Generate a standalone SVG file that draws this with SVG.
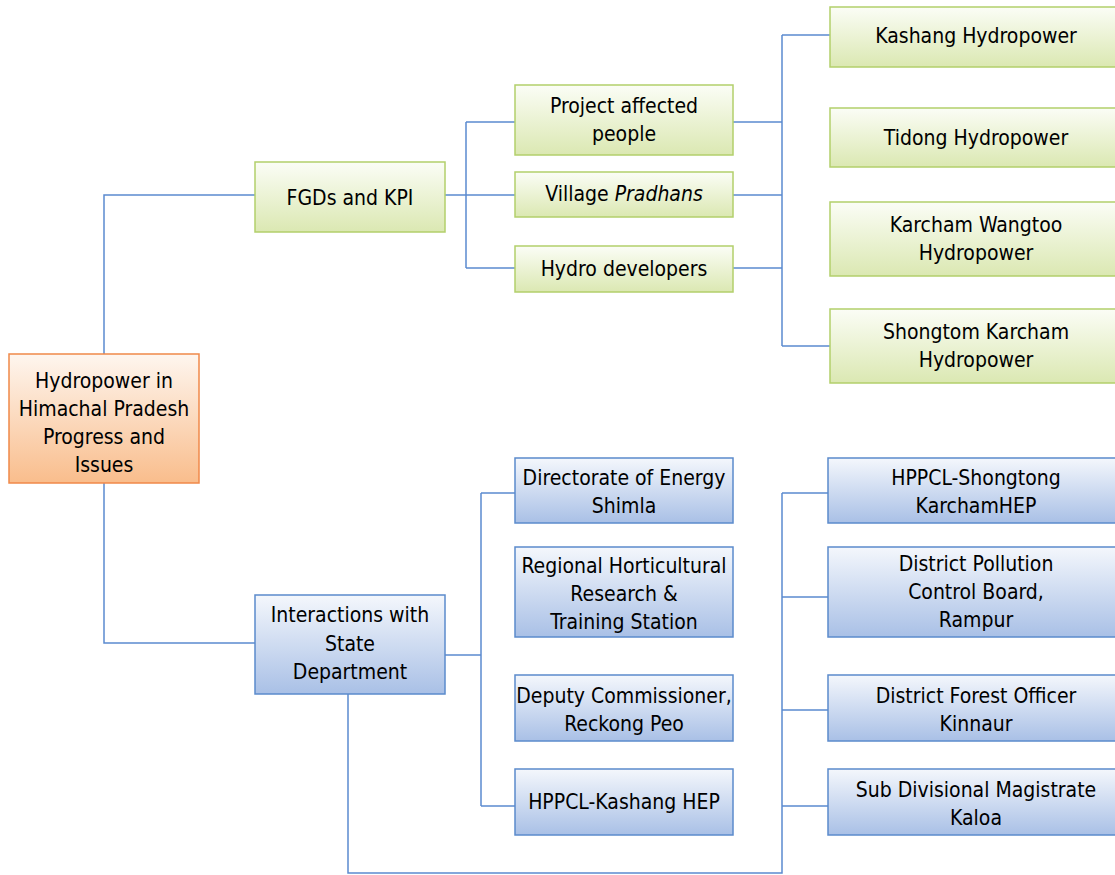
<svg xmlns="http://www.w3.org/2000/svg" width="1115" height="875" viewBox="0 0 1115 875">
<defs>
<linearGradient id="gOrange" x1="0" y1="0" x2="0" y2="1"><stop offset="0" stop-color="#fef6ef"/><stop offset="1" stop-color="#f9bd8c"/></linearGradient>
<linearGradient id="gGreen" x1="0" y1="0" x2="0" y2="1"><stop offset="0" stop-color="#fbfdf6"/><stop offset="1" stop-color="#dbe8b2"/></linearGradient>
<linearGradient id="gBlue" x1="0" y1="0" x2="0" y2="1"><stop offset="0" stop-color="#f4f7fc"/><stop offset="1" stop-color="#a9c0e6"/></linearGradient>
</defs>
<style>
text{font-family:"DejaVu Sans Condensed","DejaVu Sans",sans-serif;font-stretch:condensed;font-size:21px;fill:#000;text-anchor:middle}
.o{fill:url(#gOrange);stroke:#f0894a;stroke-width:1.5}
.g{fill:url(#gGreen);stroke:#b3cf6b;stroke-width:1.5}
.b{fill:url(#gBlue);stroke:#5b8bcc;stroke-width:1.5}
.c{fill:none;stroke:#5b8bd0;stroke-width:1.5}
</style>
<g id="connectors">
<path class="c" d="M104,354V195H255M104,483V643H255"/>
<path class="c" d="M445,195H515M466,122V268M466,122H515M466,268H515"/>
<path class="c" d="M733,122H782M733,195H782M733,268H782M782,35V346M782,35H830M782,346H830"/>
<path class="c" d="M445,655H481M481,493V806M481,493H515M481,806H515"/>
<path class="c" d="M348,694V873H782V493M782,493H828M782,597H828M782,710H828M782,806H828"/>
</g>
<g id="root"><rect class="o" x="9" y="354" width="190" height="129"/>
<text x="104" y="388">Hydropower in</text><text x="104" y="416">Himachal Pradesh</text><text x="104" y="444">Progress and</text><text x="104" y="472">Issues</text></g>
<g id="fgds"><rect class="g" x="255" y="162" width="190" height="70"/><text x="350" y="205">FGDs and KPI</text></g>
<g id="interactions"><rect class="b" x="255" y="595" width="190" height="99"/>
<text x="350" y="622">Interactions with</text><text x="350" y="651">State</text><text x="350" y="679">Department</text></g>
<g id="pap"><rect class="g" x="515" y="85" width="218" height="70"/><text x="624" y="113">Project affected</text><text x="624" y="141">people</text></g>
<g id="pradhans"><rect class="g" x="515" y="172" width="218" height="45"/><text x="624" y="201">Village <tspan font-style="italic">Pradhans</tspan></text></g>
<g id="developers"><rect class="g" x="515" y="246" width="218" height="46"/><text x="624" y="276">Hydro developers</text></g>
<g id="kashang"><rect class="g" x="830" y="7" width="295" height="60"/><text x="976" y="43">Kashang Hydropower</text></g>
<g id="tidong"><rect class="g" x="830" y="108" width="295" height="59"/><text x="976" y="145">Tidong Hydropower</text></g>
<g id="karcham"><rect class="g" x="830" y="202" width="295" height="74"/><text x="976" y="232">Karcham Wangtoo</text><text x="976" y="260">Hydropower</text></g>
<g id="shongtom"><rect class="g" x="830" y="309" width="295" height="74"/><text x="976" y="339">Shongtom Karcham</text><text x="976" y="367">Hydropower</text></g>
<g id="directorate"><rect class="b" x="515" y="458" width="218" height="65"/><text x="624" y="485">Directorate of Energy</text><text x="624" y="513">Shimla</text></g>
<g id="regional"><rect class="b" x="515" y="547" width="218" height="90"/><text x="624" y="573">Regional Horticultural</text><text x="624" y="601">Research &amp;</text><text x="624" y="629">Training Station</text></g>
<g id="deputy"><rect class="b" x="515" y="675" width="218" height="66"/><text x="624" y="703">Deputy Commissioner,</text><text x="624" y="731">Reckong Peo</text></g>
<g id="hppcl-kashang"><rect class="b" x="515" y="769" width="218" height="66"/><text x="624" y="809">HPPCL-Kashang HEP</text></g>
<g id="hppcl-shongtong"><rect class="b" x="828" y="458" width="297" height="65"/><text x="976" y="485">HPPCL-Shongtong</text><text x="976" y="513">KarchamHEP</text></g>
<g id="pollution"><rect class="b" x="828" y="547" width="297" height="90"/><text x="976" y="571">District Pollution</text><text x="976" y="599">Control Board,</text><text x="976" y="627">Rampur</text></g>
<g id="forest"><rect class="b" x="828" y="675" width="297" height="66"/><text x="976" y="703">District Forest Officer</text><text x="976" y="731">Kinnaur</text></g>
<g id="sdm"><rect class="b" x="828" y="769" width="297" height="66"/><text x="976" y="797">Sub Divisional Magistrate</text><text x="976" y="825">Kaloa</text></g>
</svg>
